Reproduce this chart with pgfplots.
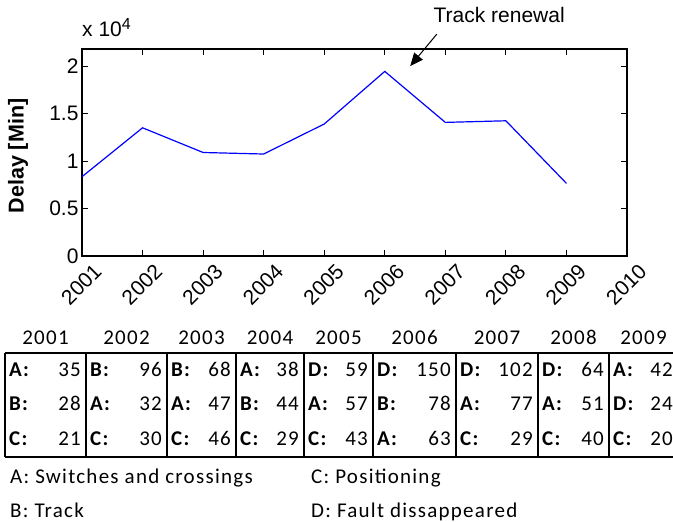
\documentclass[border=0pt]{standalone}
\usepackage{pgfplots}
\pgfplotsset{compat=1.18}
\usetikzlibrary{arrows.meta}
\usepackage{fontspec}
\setmainfont{Liberation Sans}
\newfontfamily\calfont[LetterSpace=6]{Carlito}
\begin{document}
\begin{tikzpicture}
\path[use as bounding box] (0,0) rectangle (673bp,522bp);
\begin{axis}[
  at={(82bp,266bp)}, anchor=south west,
  scale only axis, width=545bp, height=207bp,
  xmin=2001, xmax=2010, ymin=0, ymax=2.18,
  xtick={2001,2002,2003,2004,2005,2006,2007,2008,2009,2010},
  ytick={0,0.5,1,1.5,2},
  /pgf/number format/assume math mode=true,
  /pgf/number format/1000 sep={},
  tick align=inside, major tick length=6bp,
  axis line style={line width=1.5bp},
  every tick/.style={black, line width=1bp},
  ticklabel style={font=\fontsize{21bp}{24bp}\selectfont},
  xticklabel style={rotate=45, anchor=north east, inner sep=2bp, xshift=5bp, yshift=-10bp},
  clip=false,
]
\addplot[blue, line width=1.2bp] coordinates {
(2001,0.835) (2002,1.35) (2003,1.09) (2004,1.074) (2005,1.39)
(2006,1.944) (2007,1.407) (2008,1.424) (2009,0.765)};
\draw[-{Triangle[length=13bp,width=11bp]}, line width=1bp] (axis cs:2006.86,2.337) -- (axis cs:2006.42,2.0);
\node[font=\fontsize{21bp}{24bp}\selectfont] at (axis cs:2007.89,2.537) {Track renewal};
\end{axis}
\begin{scope}[x=1bp, y=-1bp, shift={(0,522bp)}]
\node[anchor=base west, inner sep=0, font=\fontsize{21bp}{24bp}\selectfont] at (82,37) {x 10\textsuperscript{\fontsize{16bp}{18bp}\selectfont 4}};
\node[rotate=90, inner sep=0, font=\fontsize{21.5bp}{24bp}\selectfont\bfseries] at (18,156) {Delay [Min]};
\begin{scope}[font=\calfont\fontsize{21bp}{24bp}\selectfont, every node/.style={inner sep=0}]
\draw[line width=2bp] (5,353) -- (673,353);
\draw[line width=2bp] (5,457) -- (673,457);
\foreach \l/\r/\yr/\aa/\av/\ba/\bv/\ca/\cv in {
  5/86/2001/A/35/B/28/C/21,
  86/167/2002/B/96/A/32/C/30,
  167/236/2003/B/68/A/47/C/46,
  236/304/2004/A/38/B/44/C/29,
  304/373/2005/D/59/A/57/C/43,
  373/456/2006/D/150/B/78/A/63,
  456/538/2007/D/102/A/77/C/29,
  538/609/2008/D/64/A/51/C/40,
  609/678/2009/A/42/D/24/C/20} {
  \draw[line width=2bp] (\l,353) -- (\l,457);
  \node[anchor=base] at ({(\l+\r)/2},345) {\yr};
  \node[anchor=base west] at (\l+4,377) {\bfseries\aa:};
  \node[anchor=base east] at (\r-5,377) {\av};
  \node[anchor=base west] at (\l+4,411) {\bfseries\ba:};
  \node[anchor=base east] at (\r-5,411) {\bv};
  \node[anchor=base west] at (\l+4,446) {\bfseries\ca:};
  \node[anchor=base east] at (\r-5,446) {\cv};
}
\node[anchor=base west] at (10,484) {A: Switches and crossings};
\node[anchor=base west] at (311,484) {C: Positioning};
\node[anchor=base west] at (10,518) {B: Track};
\node[anchor=base west] at (311,518) {D: Fault dissappeared};
\end{scope}
\end{scope}
\end{tikzpicture}
\end{document}
